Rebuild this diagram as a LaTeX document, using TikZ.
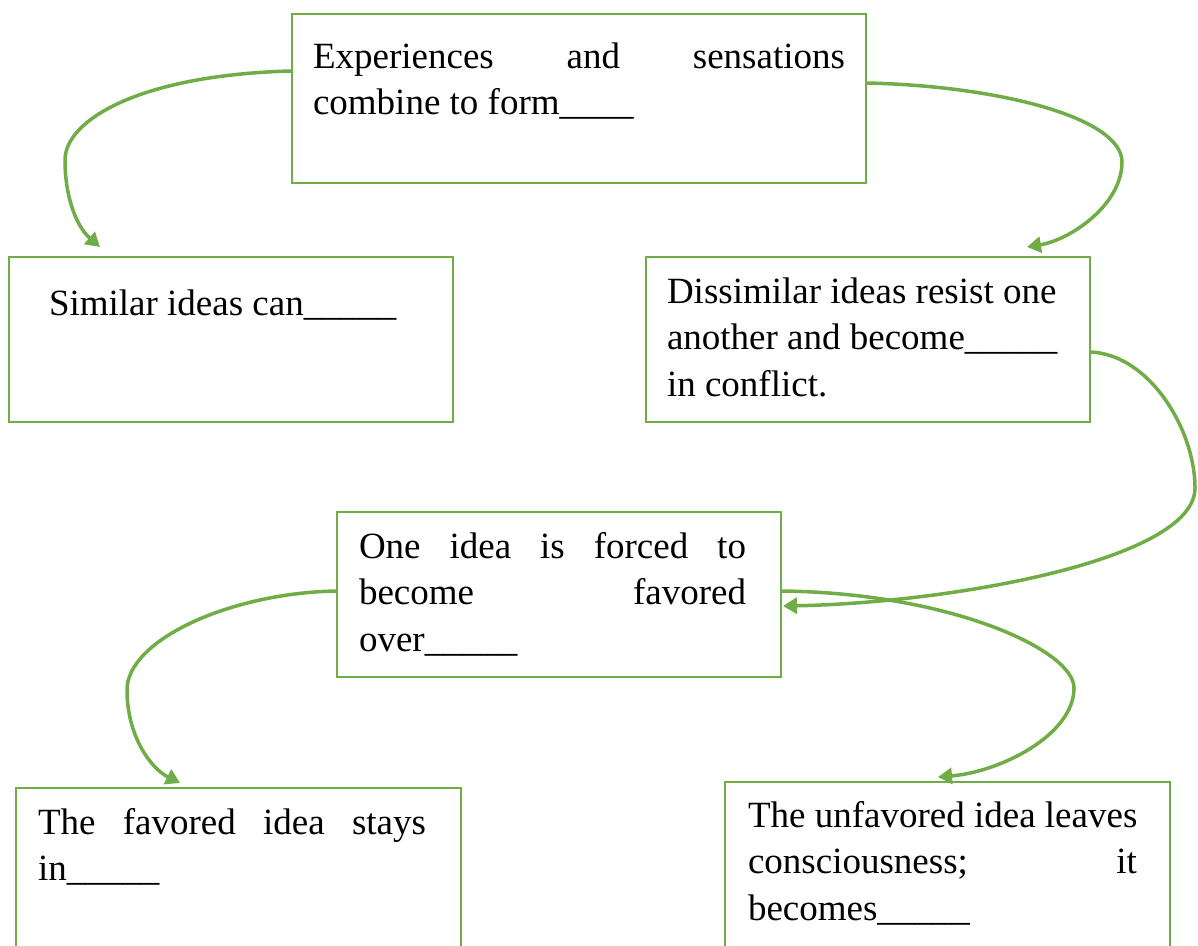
\documentclass[tikz,border=0pt]{standalone}
\usepackage{fontspec}
\setmainfont{Liberation Serif}
\usetikzlibrary{arrows.meta,calc}
\definecolor{grn}{HTML}{70AD47}
\newcommand{\bxt}[5]{\parbox[c][#2][t]{#1}{\leftskip=#3\relax\fontsize{37}{46.5}\selectfont\rule{0pt}{#4}#5}}
\begin{document}
\begin{tikzpicture}[x=1pt,y=-1pt,
  box/.style={draw=grn, line width=2.5pt, inner sep=0pt, outer sep=0pt, anchor=north west},
  conn/.style={draw=grn, line width=3.5pt, -{Triangle[length=14pt,width=16pt]}}]
\useasboundingbox (0,0) rectangle (1198,945);
\clip (0,0) rectangle (1198,945);
\fill[white] (0,0) rectangle (1198,945);
\node[box] (b1) at (292,14) {\bxt{574pt}{169pt}{21pt}{54pt}{\hbox to 532pt{Experiences\hfill and\hfill sensations}\\combine to form\_\_\_\_}};
\node[box] (b2) at (9,257) {\bxt{444pt}{165pt}{40pt}{58pt}{Similar ideas can\_\_\_\_\_}};
\node[box] (b3) at (646,257) {\bxt{444pt}{165pt}{21pt}{46pt}{Dissimilar ideas resist one\\another and become\_\_\_\_\_\\in conflict.}};
\node[box] (b4) at (337,512) {\bxt{444pt}{165pt}{22pt}{46pt}{\hbox to 387pt{One\hfill idea\hfill is\hfill forced\hfill to}\\\hbox to 387pt{become\hfill favored}\\over\_\_\_\_\_}};
\node[box] (b5) at (16,788) {\bxt{445pt}{165pt}{22pt}{46pt}{\hbox to 388pt{The\hfill favored\hfill idea\hfill stays}\\in\_\_\_\_\_}};
\node[box] (b6) at (725,782) {\bxt{445pt}{165pt}{23pt}{45pt}{The unfavored idea leaves\\\hbox to 389pt{consciousness;\hfill it}\\becomes\_\_\_\_\_}};
\draw[conn] ($(b1.north west)+(-1,57)$) .. controls (140,75) and (65,120) .. (65,160) .. controls (65,200) and (78,228) .. ($(b2.north west)+(91,-10)$);
\draw[conn] ($(b1.north east)+(1,69)$) .. controls (1000,86) and (1122,118) .. (1122,162) .. controls (1122,205) and (1070,240) .. ($(b3.north west)+(381,-10)$);
\draw[conn] ($(b3.north east)+(1,95)$) .. controls (1150,355) and (1195,430) .. (1195,488) .. controls (1195,560) and (950,603) .. ($(b4.north east)+(2,94)$);
\draw[conn] ($(b4.north east)+(1,79)$) .. controls (950,593) and (1074,650) .. (1074,688) .. controls (1074,735) and (1000,772) .. ($(b6.north west)+(213,-5)$);
\draw[conn] ($(b4.north west)+(-1,79)$) .. controls (230,593) and (127,640) .. (127,690) .. controls (127,735) and (150,768) .. ($(b5.north west)+(164,-5)$);
\end{tikzpicture}
\end{document}
